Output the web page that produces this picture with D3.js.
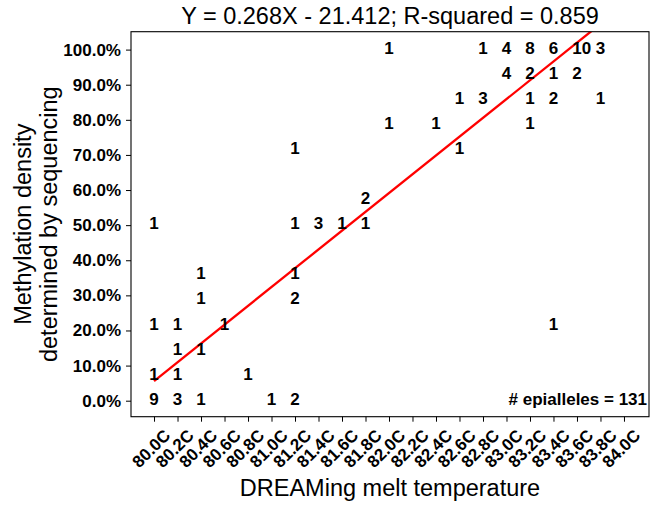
<!DOCTYPE html>
<html>
<head>
<meta charset="utf-8">
<script src="https://cdn.jsdelivr.net/npm/d3@7"></script>
<style>
  html, body { margin: 0; padding: 0; background: #fff; }
  svg { display: block; font-family: "Liberation Sans", Arial, sans-serif; }
</style>
</head>
<body>
<svg id="chart" width="650" height="510"></svg>
<script>
// ---- data ----
const temps   = [80.0, 80.2, 80.4, 81.0, 81.2,
                 80.0, 80.2, 80.8,
                 80.2, 80.4,
                 80.0, 80.2, 80.6, 83.4,
                 80.4, 81.2,
                 80.4, 81.2,
                 80.0, 81.2, 81.4, 81.6, 81.8,
                 81.8,
                 81.2, 82.6,
                 82.0, 82.4, 83.2,
                 82.6, 82.8, 83.2, 83.4, 83.8,
                 83.0, 83.2, 83.4, 83.6,
                 82.0, 82.8, 83.0, 83.2, 83.4, 83.6, 83.8];
const density = [0, 0, 0, 0, 0,
                 7.14, 7.14, 7.14,
                 14.29, 14.29,
                 21.43, 21.43, 21.43, 21.43,
                 28.57, 28.57,
                 35.71, 35.71,
                 50, 50, 50, 50, 50,
                 57.14,
                 71.43, 71.43,
                 78.57, 78.57, 78.57,
                 85.71, 85.71, 85.71, 85.71, 85.71,
                 92.86, 92.86, 92.86, 92.86,
                 100, 100, 100, 100, 100, 100, 100];
const counts  = [9, 3, 1, 1, 2,
                 1, 1, 1,
                 1, 1,
                 1, 1, 1, 1,
                 1, 2,
                 1, 1,
                 1, 1, 3, 1, 1,
                 2,
                 1, 1,
                 1, 1, 1,
                 1, 3, 1, 2, 1,
                 4, 2, 1, 2,
                 1, 1, 4, 8, 6, 10, 3];
const xTicks = [80.0, 80.2, 80.4, 80.6, 80.8, 81.0, 81.2, 81.4, 81.6, 81.8, 82.0,
                82.2, 82.4, 82.6, 82.8, 83.0, 83.2, 83.4, 83.6, 83.8, 84.0];
const yTicks = [0, 10, 20, 30, 40, 50, 60, 70, 80, 90, 100];
const fitSlope = 0.2677;      // fraction per degree (as drawn)
const fitIntercept = -21.36;
const fitRange = [80.0, 83.8];
const titleText = "Y = 0.268X - 21.412; R-squared = 0.859";
const xLabel = "DREAMing melt temperature";
const yLabelLines = ["Methylation density", "determined by sequencing"];
const noteText = "# epialleles = 131";

// ---- layout ----
const svg = d3.select("#chart");
const L = 131, R = 649, T = 31.7, B = 416.7;
const x = d3.scaleLinear().domain([79.804, 84.213]).range([L, R]);
const y = d3.scaleLinear().domain([-4.56, 105.1]).range([B, T]);
const F = 17;
const FT = 23.5;

svg.append("defs").append("clipPath").attr("id", "plotclip")
  .append("rect").attr("x", L).attr("y", T).attr("width", R - L).attr("height", B - T);

// regression line
const fitPts = fitRange.map(t => [t, (fitSlope * t + fitIntercept) * 100]);
svg.append("path")
  .attr("clip-path", "url(#plotclip)")
  .attr("d", d3.line().x(d => x(d[0])).y(d => y(d[1]))(fitPts))
  .attr("stroke", "#ff0000").attr("stroke-width", 2.3).attr("fill", "none");

// count labels
svg.append("g").selectAll("text").data(temps.map((t, i) => ({t, d: density[i], c: counts[i]})))
  .join("text")
  .attr("x", d => x(d.t)).attr("y", d => y(d.d))
  .attr("dx", "-0.278em").attr("dy", "0.24em")
  .attr("font-size", F).attr("font-weight", "bold").attr("fill", "#000")
  .text(d => d.c);

// axes
const yAxis = svg.append("g").attr("transform", `translate(${L},0)`)
  .call(d3.axisLeft(y).tickValues(yTicks).tickSize(5).tickPadding(5)
    .tickFormat(d => d3.format(".1f")(d) + "%"));
yAxis.select(".domain").remove();
yAxis.selectAll("text").attr("font-size", F).attr("font-weight", "bold")
  .attr("font-family", "Liberation Sans, Arial, sans-serif").attr("fill", "#000");
yAxis.selectAll("line").attr("stroke", "#000").attr("stroke-width", 1);

const xAxis = svg.append("g").attr("transform", `translate(0,${B})`)
  .call(d3.axisBottom(x).tickValues(xTicks).tickSize(5).tickFormat(d => d3.format(".1f")(d) + "C"));
xAxis.select(".domain").remove();
xAxis.selectAll("line").attr("stroke", "#000").attr("stroke-width", 1);
xAxis.selectAll("text")
  .attr("font-size", F).attr("font-weight", "bold")
  .attr("font-family", "Liberation Sans, Arial, sans-serif").attr("fill", "#000")
  .attr("y", 0).attr("dy", 0)
  .attr("text-anchor", "middle").attr("dominant-baseline", "central")
  .each(function() {
    const len = this.getComputedTextLength();
    const h = F * 1.0;
    const rh = (len + h) * Math.SQRT1_2;
    d3.select(this).attr("transform", `translate(-3,${10 + rh / 2}) rotate(-45)`);
  });

// frame
svg.append("rect").attr("x", L).attr("y", T).attr("width", R - L).attr("height", B - T)
  .attr("fill", "none").attr("stroke", "#000").attr("stroke-width", 1.1);

// texts
svg.append("text").attr("x", (L + R) / 2).attr("y", 24).attr("text-anchor", "middle")
  .attr("font-size", FT).attr("fill", "#000").text(titleText);
svg.append("text").attr("x", (L + R) / 2).attr("y", 496).attr("text-anchor", "middle")
  .attr("font-size", FT).attr("fill", "#000").text(xLabel);
const yl = svg.append("text").attr("transform", `translate(0,${(T + B) / 2}) rotate(-90)`)
  .attr("text-anchor", "middle").attr("font-size", FT).attr("fill", "#000");
yl.append("tspan").attr("x", 0).attr("y", 31).text(yLabelLines[0]);
yl.append("tspan").attr("x", 0).attr("y", 57).text(yLabelLines[1]);
svg.append("text").attr("x", R - 2).attr("y", y(0) + 4).attr("text-anchor", "end")
  .attr("font-size", F).attr("font-weight", "bold").attr("fill", "#000").text(noteText);
</script>
</body>
</html>
